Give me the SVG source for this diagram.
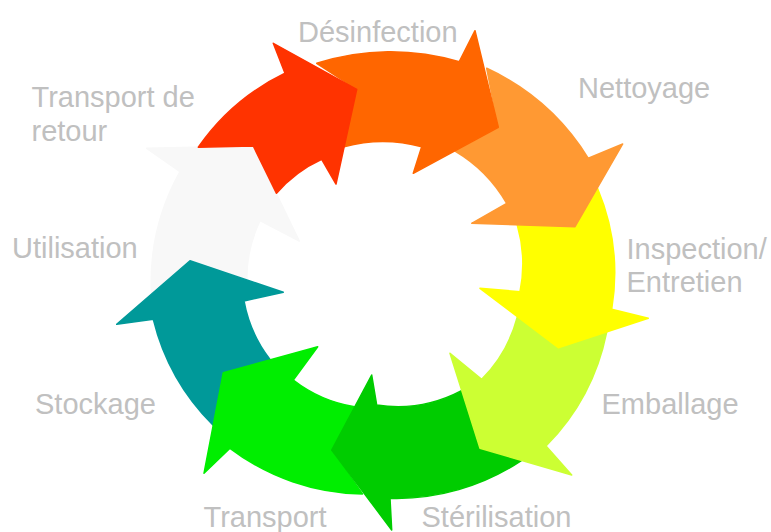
<svg xmlns="http://www.w3.org/2000/svg" width="771" height="532" viewBox="0 0 771 532">
<style>
.lbl{font-family:"Liberation Sans",Arial,sans-serif;font-size:29px;fill:#C0C0C0}
.arr{stroke-width:1.5;stroke-linejoin:round}
</style>
<rect width="771" height="532" fill="#FFFFFF"/>
<g id="node-utilisation">
<path class="arr" fill="#F8F8F8" stroke="#F8F8F8" d="M151.5,294 A228,228 0 0 1 180,171.7 L146.7,148.3 L253.3,146 L299.3,241 L260,220.7 A135,135 0 0 0 246.7,279.9 L190,260.7 Z"/>
<text class="lbl" x="12" y="258">Utilisation</text>
</g>
<g id="node-stockage">
<path class="arr" fill="#009999" stroke="#009999" d="M212.9,425 A225,225 0 0 1 153.3,319.3 L116.7,324.3 L190,260.7 L283.3,292.3 L244,301 A135,135 0 0 0 270,359.5 L223.3,372.7 Z"/>
<text class="lbl" x="35" y="414">Stockage</text>
</g>
<g id="node-transport">
<path class="arr" fill="#00EE00" stroke="#00EE00" d="M362.5,494 A225,225 0 0 1 230,448.3 L204,473.3 L223.3,372.7 L317.7,346.7 L293.3,380 A135,135 0 0 0 354.5,406.7 L331.7,450 Z"/>
<text class="lbl" x="203.5" y="527">Transport</text>
</g>
<g id="node-sterilisation">
<path class="arr" fill="#00CC00" stroke="#00CC00" d="M521.7,460.4 A225,225 0 0 1 390,498.3 L391.7,530 L331.7,450 L371.7,375 L376.7,405 A137,137 0 0 0 461.5,390.7 L480,448.3 Z"/>
<text class="lbl" x="421.5" y="527">Stérilisation</text>
</g>
<g id="node-emballage">
<path class="arr" fill="#CCFF33" stroke="#CCFF33" d="M606.7,332 A225,225 0 0 1 546,446 L571.7,475 L480,448.3 L450,353.3 L481.7,379.3 A138,138 0 0 0 517.3,317 L558.3,347.7 Z"/>
<text class="lbl" x="601.5" y="414">Emballage</text>
</g>
<g id="node-inspection">
<path class="arr" fill="#FFFF00" stroke="#FFFF00" d="M597.5,188.3 A220,220 0 0 1 611.7,309.3 L648.3,318.3 L558.3,347.7 L480,288.3 L520,291.7 A140,140 0 0 0 517.3,225 L575,226.7 Z"/>
<text class="lbl" x="626.5" y="258.5">Inspection/</text>
<text class="lbl" x="626.5" y="292">Entretien</text>
</g>
<g id="node-nettoyage">
<path class="arr" fill="#FF9933" stroke="#FF9933" d="M486.7,68.3 A235,235 0 0 1 588.3,158.3 L622.7,144 L575,226.7 L471.7,223.3 L506.7,203.3 A144,144 0 0 0 455,151 L498.3,127.3 Z"/>
<text class="lbl" x="578" y="98">Nettoyage</text>
</g>
<g id="node-desinfection">
<path class="arr" fill="#FF6600" stroke="#FF6600" d="M316.7,63.3 A240,240 0 0 1 459.3,61.7 L475,30.7 L498.3,127.3 L413.3,173.3 L421.7,146.7 A150,150 0 0 0 344,146.7 L356.7,89.3 Z"/>
<text class="lbl" x="298" y="41.5">Désinfection</text>
</g>
<g id="node-transport-retour">
<path class="arr" fill="#FF3300" stroke="#FF3300" d="M198.3,147.3 A224,224 0 0 1 285,73.3 L273.3,43.3 L356.7,89.3 L336,184 L321.7,159.3 A132,132 0 0 0 276.5,193.3 L253.3,146 Z"/>
<text class="lbl" x="31.5" y="106.5">Transport de</text>
<text class="lbl" x="31.5" y="141">retour</text>
</g>
</svg>
